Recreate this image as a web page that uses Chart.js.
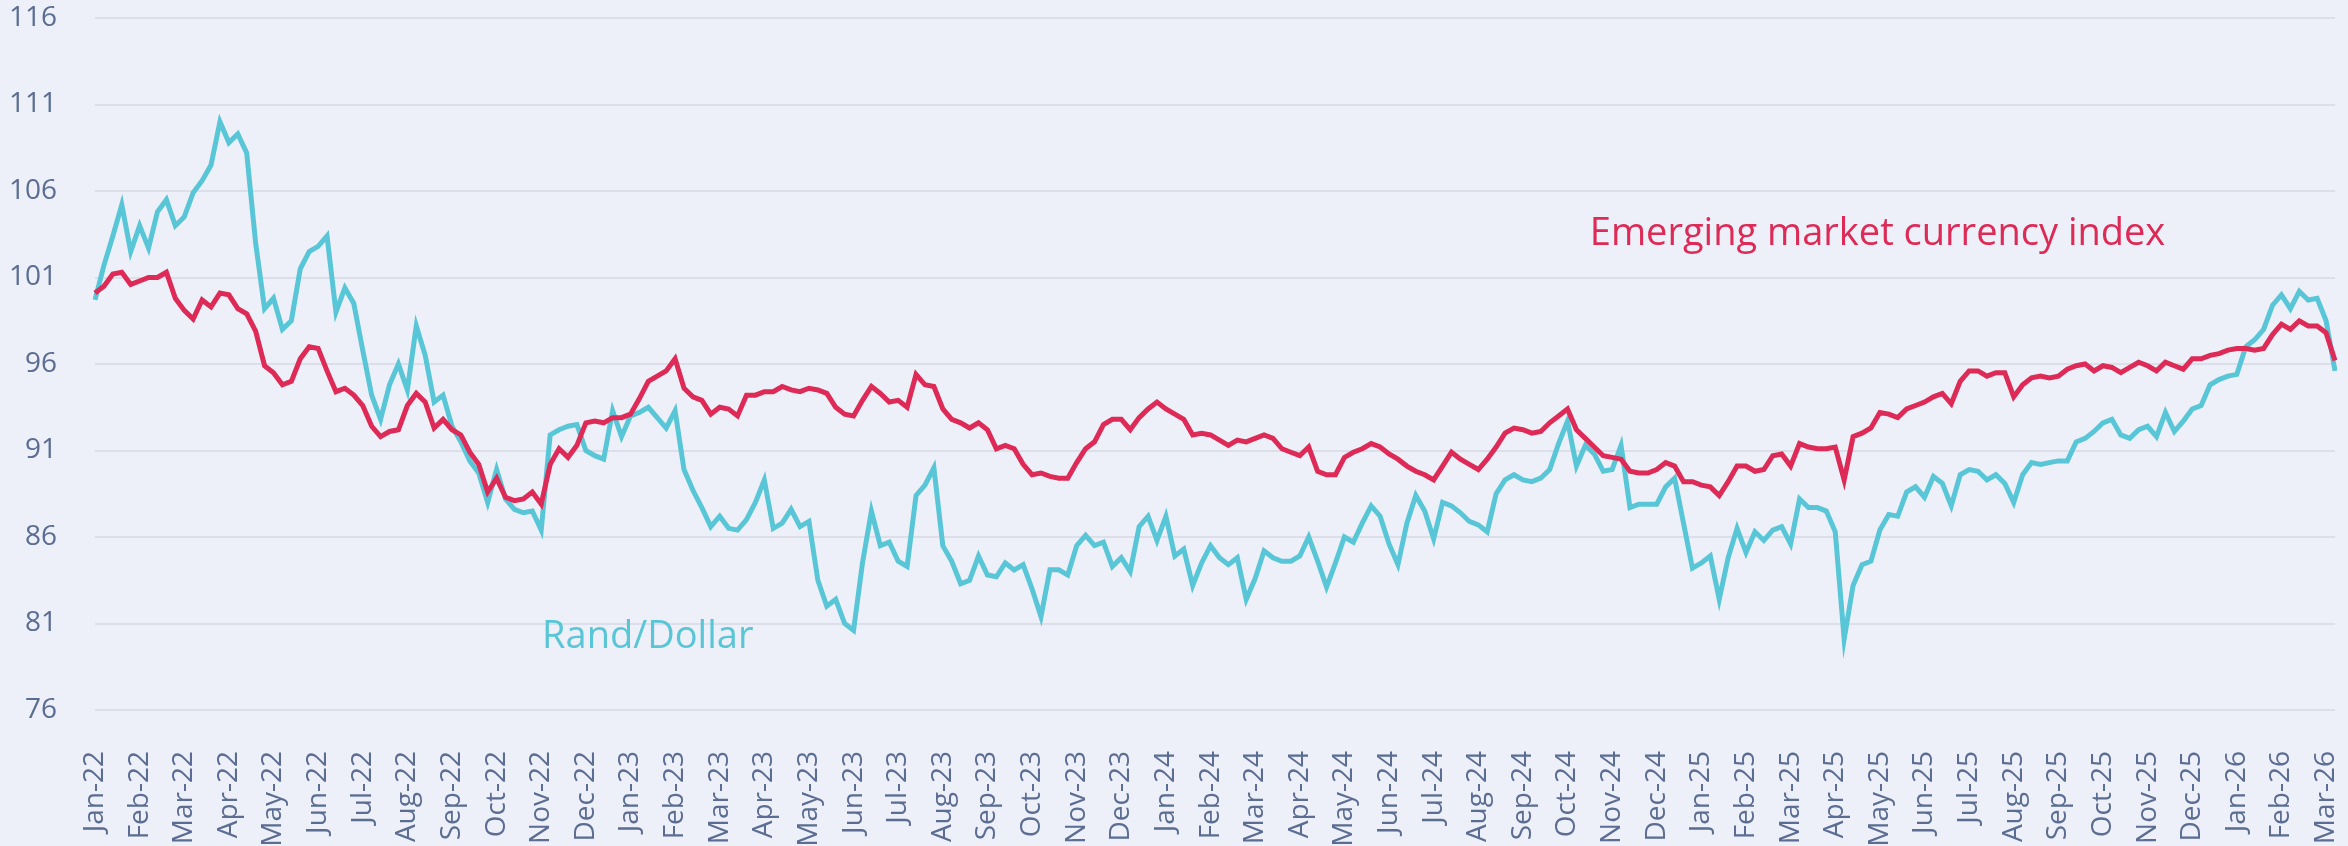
<!DOCTYPE html>
<html>
<head>
<meta charset="utf-8">
<title>Rand/Dollar vs emerging market currency index</title>
<script src="https://cdn.jsdelivr.net/npm/chart.js@4"></script>
<style>
  html, body { margin: 0; padding: 0; background: #edf0f8; }
  #wrap { width: 2348px; height: 846px; }
</style>
</head>
<body>
<div id="wrap"><canvas id="fxChart" width="2348" height="846"></canvas></div>
<script>
// month labels on the x axis (5 readings per month, Mar-26 is partial)
const months = [
  'Jan-22','Feb-22','Mar-22','Apr-22','May-22','Jun-22','Jul-22','Aug-22','Sep-22','Oct-22','Nov-22','Dec-22',
  'Jan-23','Feb-23','Mar-23','Apr-23','May-23','Jun-23','Jul-23','Aug-23','Sep-23','Oct-23','Nov-23','Dec-23',
  'Jan-24','Feb-24','Mar-24','Apr-24','May-24','Jun-24','Jul-24','Aug-24','Sep-24','Oct-24','Nov-24','Dec-24',
  'Jan-25','Feb-25','Mar-25','Apr-25','May-25','Jun-25','Jul-25','Aug-25','Sep-25','Oct-25','Nov-25','Dec-25',
  'Jan-26','Feb-26','Mar-26'
];

// Rand/Dollar, index (Jan-22 = 100)
const randDollar = [
  99.7, 101.7, 103.4, 105.2, 102.5,
  104.0, 102.7, 104.8, 105.5, 104.0,
  104.5, 105.9, 106.6, 107.5, 110.0,
  108.8, 109.3, 108.2, 103.0, 99.2,
  99.8, 98.0, 98.5, 101.5, 102.5,
  102.8, 103.4, 99.0, 100.4, 99.5,
  96.8, 94.2, 92.8, 94.8, 96.0,
  94.5, 98.2, 96.5, 93.8, 94.2,
  92.4, 91.5, 90.4, 89.7, 88.0,
  89.9, 88.2, 87.6, 87.4, 87.5,
  86.4, 91.9, 92.2, 92.4, 92.5,
  91.0, 90.7, 90.5, 93.3, 91.8,
  93.0, 93.2, 93.5, 92.9, 92.3,
  93.3, 89.9, 88.7, 87.7, 86.6,
  87.2, 86.5, 86.4, 87.0, 88.0,
  89.3, 86.5, 86.8, 87.6, 86.6,
  86.9, 83.5, 82.0, 82.4, 81.0,
  80.6, 84.5, 87.5, 85.5, 85.7,
  84.6, 84.3, 88.4, 89.0, 90.0,
  85.5, 84.6, 83.3, 83.5, 84.9,
  83.8, 83.7, 84.5, 84.1, 84.4,
  83.0, 81.4, 84.1, 84.1, 83.8,
  85.5, 86.1, 85.5, 85.7, 84.3,
  84.8, 84.0, 86.6, 87.2, 85.8,
  87.2, 84.9, 85.3, 83.2, 84.5,
  85.5, 84.8, 84.4, 84.8, 82.4,
  83.6, 85.2, 84.8, 84.6, 84.6,
  84.9, 86.0, 84.6, 83.1, 84.5,
  86.0, 85.7, 86.8, 87.8, 87.2,
  85.6, 84.4, 86.8, 88.4, 87.5,
  85.9, 88.0, 87.8, 87.4, 86.9,
  86.7, 86.3, 88.5, 89.3, 89.6,
  89.3, 89.2, 89.4, 89.9, 91.4,
  92.7, 90.1, 91.3, 90.8, 89.8,
  89.9, 91.3, 87.7, 87.9, 87.9,
  87.9, 88.9, 89.4, 86.8, 84.2,
  84.5, 84.9, 82.4, 84.8, 86.5,
  85.1, 86.3, 85.8, 86.4, 86.6,
  85.6, 88.2, 87.7, 87.7, 87.5,
  86.3, 80.1, 83.2, 84.4, 84.6,
  86.4, 87.3, 87.2, 88.6, 88.9,
  88.3, 89.5, 89.1, 87.8, 89.6,
  89.9, 89.8, 89.3, 89.6, 89.1,
  88.0, 89.6, 90.3, 90.2, 90.3,
  90.4, 90.4, 91.5, 91.7, 92.1,
  92.6, 92.8, 91.9, 91.7, 92.2,
  92.4, 91.8, 93.2, 92.1, 92.7,
  93.4, 93.6, 94.8, 95.1, 95.3,
  95.4, 97.0, 97.4, 98.0, 99.4,
  100.0, 99.2, 100.2, 99.7, 99.8,
  98.5, 95.6
];

// Emerging market currency index (Jan-22 = 100)
const emIndex = [
  100.1, 100.5, 101.2, 101.3, 100.6,
  100.8, 101.0, 101.0, 101.3, 99.8,
  99.1, 98.6, 99.7, 99.3, 100.1,
  100.0, 99.2, 98.9, 97.9, 95.9,
  95.5, 94.8, 95.0, 96.3, 97.0,
  96.9, 95.6, 94.4, 94.6, 94.2,
  93.6, 92.4, 91.8, 92.1, 92.2,
  93.6, 94.3, 93.8, 92.3, 92.8,
  92.2, 91.9, 90.9, 90.2, 88.6,
  89.4, 88.3, 88.1, 88.2, 88.6,
  87.9, 90.2, 91.1, 90.6, 91.3,
  92.6, 92.7, 92.6, 92.9, 92.9,
  93.1, 94.0, 95.0, 95.3, 95.6,
  96.3, 94.6, 94.1, 93.9, 93.1,
  93.5, 93.4, 93.0, 94.2, 94.2,
  94.4, 94.4, 94.7, 94.5, 94.4,
  94.6, 94.5, 94.3, 93.5, 93.1,
  93.0, 93.9, 94.7, 94.3, 93.8,
  93.9, 93.5, 95.4, 94.8, 94.7,
  93.4, 92.8, 92.6, 92.3, 92.6,
  92.2, 91.1, 91.3, 91.1, 90.2,
  89.6, 89.7, 89.5, 89.4, 89.4,
  90.3, 91.1, 91.5, 92.5, 92.8,
  92.8, 92.2, 92.9, 93.4, 93.8,
  93.4, 93.1, 92.8, 91.9, 92.0,
  91.9, 91.6, 91.3, 91.6, 91.5,
  91.7, 91.9, 91.7, 91.1, 90.9,
  90.7, 91.2, 89.8, 89.6, 89.6,
  90.6, 90.9, 91.1, 91.4, 91.2,
  90.8, 90.5, 90.1, 89.8, 89.6,
  89.3, 90.1, 90.9, 90.5, 90.2,
  89.9, 90.5, 91.2, 92.0, 92.3,
  92.2, 92.0, 92.1, 92.6, 93.0,
  93.4, 92.2, 91.7, 91.2, 90.7,
  90.6, 90.5, 89.8, 89.7, 89.7,
  89.9, 90.3, 90.1, 89.2, 89.2,
  89.0, 88.9, 88.4, 89.2, 90.1,
  90.1, 89.8, 89.9, 90.7, 90.8,
  90.1, 91.4, 91.2, 91.1, 91.1,
  91.2, 89.3, 91.8, 92.0, 92.3,
  93.2, 93.1, 92.9, 93.4, 93.6,
  93.8, 94.1, 94.3, 93.7, 95.0,
  95.6, 95.6, 95.3, 95.5, 95.5,
  94.1, 94.8, 95.2, 95.3, 95.2,
  95.3, 95.7, 95.9, 96.0, 95.6,
  95.9, 95.8, 95.5, 95.8, 96.1,
  95.9, 95.6, 96.1, 95.9, 95.7,
  96.3, 96.3, 96.5, 96.6, 96.8,
  96.9, 96.9, 96.8, 96.9, 97.7,
  98.3, 98.0, 98.5, 98.2, 98.2,
  97.8, 96.2
];

const yTicks = [76, 81, 86, 91, 96, 101, 106, 111, 116];

const RED = '#dd2a56';
const TEAL = '#58c6d6';
const AXIS_TEXT = '#5b6d92';

// one label per reading, month name on the first reading of each month
const perMonth = 5;
const labels = [];
months.forEach(m => {
  labels.push(m);
  for (let k = 1; k < perMonth && labels.length < randDollar.length; k++) labels.push('');
});

// series names written next to the lines
const lineNames = [
  { text: 'Emerging market currency index', at: 167.5, value: 102.9, color: RED },
  { text: 'Rand/Dollar', at: 50.1, value: 79.6, color: TEAL }
];

const lineNamePlugin = {
  id: 'lineNames',
  afterDatasetsDraw(chart) {
    const { ctx, scales } = chart;
    ctx.save();
    ctx.font = '38px "Open Sans"';
    ctx.textAlign = 'left';
    ctx.textBaseline = 'alphabetic';
    lineNames.forEach(n => {
      ctx.fillStyle = n.color;
      ctx.fillText(n.text, scales.x.getPixelForValue(n.at), scales.y.getPixelForValue(n.value));
    });
    ctx.restore();
  }
};

new Chart(document.getElementById('fxChart'), {
  type: 'line',
  data: {
    labels: labels,
    datasets: [
      {
        label: 'Emerging market currency index',
        data: emIndex,
        borderColor: RED,
        borderWidth: 5,
        pointRadius: 0,
        tension: 0
      },
      {
        label: 'Rand/Dollar',
        data: randDollar,
        borderColor: TEAL,
        borderWidth: 5,
        pointRadius: 0,
        tension: 0
      }
    ]
  },
  options: {
    responsive: false,
    animation: false,
    devicePixelRatio: 1,
    layout: { padding: { top: 18, right: 13, left: 0, bottom: 0 } },
    plugins: {
      legend: { display: false },
      tooltip: { enabled: false }
    },
    scales: {
      x: {
        grid: { display: false },
        border: { display: false },
        ticks: {
          autoSkip: false,
          minRotation: 90,
          maxRotation: 90,
          padding: 33,
          color: AXIS_TEXT,
          font: { family: 'Open Sans', size: 28 }
        },
        afterFit: s => {
          s.height = 136;
          s.paddingLeft = 0;
          s.paddingRight = 0;
        }
      },
      y: {
        min: 76,
        max: 116,
        afterBuildTicks: s => { s.ticks = yTicks.map(v => ({ value: v })); },
        grid: { color: '#dcdfe9', lineWidth: 2, drawTicks: false },
        border: { display: false },
        ticks: {
          padding: 38,
          color: AXIS_TEXT,
          font: { family: 'Open Sans', size: 28 }
        },
        afterFit: s => {
          s.width = 95;
          s.paddingTop = 0;
          s.paddingBottom = 0;
        }
      }
    }
  },
  plugins: [lineNamePlugin]
});
</script>
</body>
</html>
